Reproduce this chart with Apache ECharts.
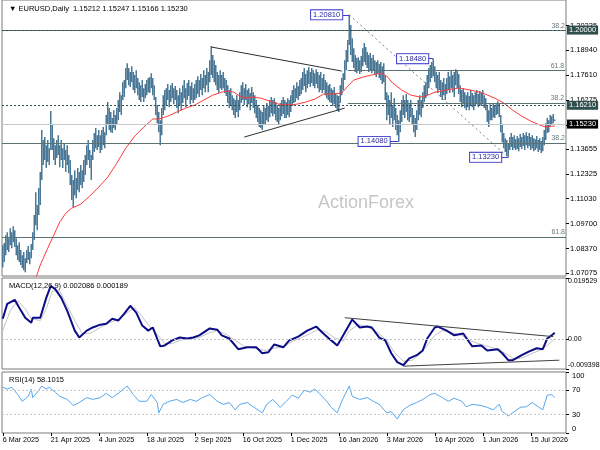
<!DOCTYPE html>
<html><head><meta charset="utf-8">
<script src="https://cdn.jsdelivr.net/npm/echarts@6/dist/echarts.min.js"></script>
<style>html,body{margin:0;padding:0;background:#fff}#c{width:600px;height:450px}</style>
</head><body><div id="c"></div>
<script>
// ---- price bars (daily high / low) ----
const highs = [
1.0856,1.0867,1.0909,1.0925,1.0893,1.0946,1.0925,1.0957,1.0936,1.0893,
1.0856,1.0872,1.0830,1.0803,1.0819,1.0787,1.0830,1.0851,1.0819,1.0862,
1.0925,1.1016,1.1138,1.1069,1.1160,1.1245,1.1468,1.1415,1.1431,1.1388,
1.1415,1.1372,1.1569,1.1495,1.1425,1.1388,1.1415,1.1441,1.1388,1.1415,
1.1372,1.1399,1.1362,1.1388,1.1335,1.1309,1.1229,1.1202,1.1255,1.1213,
1.1266,1.1245,1.1282,1.1255,1.1309,1.1335,1.1388,1.1415,1.1362,1.1335,
1.1415,1.1452,1.1479,1.1441,1.1468,1.1441,1.1468,1.1484,1.1457,1.1548,
1.1617,1.1585,1.1564,1.1532,1.1574,1.1548,1.1585,1.1628,1.1670,1.1654,
1.1723,1.1734,1.1798,1.1824,1.1798,1.1777,1.1808,1.1777,1.1761,1.1787,
1.1745,1.1723,1.1707,1.1734,1.1691,1.1713,1.1734,1.1745,1.1750,1.1771,
1.1745,1.1707,1.1644,1.1601,1.1564,1.1521,1.1585,1.1654,1.1681,1.1691,
1.1713,1.1681,1.1707,1.1718,1.1691,1.1702,1.1681,1.1654,1.1691,1.1670,
1.1707,1.1734,1.1691,1.1718,1.1734,1.1702,1.1723,1.1691,1.1713,1.1734,
1.1755,1.1734,1.1766,1.1745,1.1787,1.1761,1.1798,1.1777,1.1840,1.1915,
1.1867,1.1840,1.1814,1.1777,1.1761,1.1787,1.1761,1.1777,1.1745,1.1734,
1.1707,1.1681,1.1691,1.1654,1.1638,1.1628,1.1654,1.1628,1.1670,1.1707,
1.1723,1.1691,1.1713,1.1681,1.1691,1.1665,1.1697,1.1670,1.1654,1.1628,
1.1601,1.1585,1.1574,1.1564,1.1601,1.1585,1.1612,1.1596,1.1628,1.1644,
1.1628,1.1638,1.1617,1.1601,1.1585,1.1612,1.1628,1.1644,1.1628,1.1617,
1.1638,1.1628,1.1654,1.1681,1.1707,1.1691,1.1723,1.1702,1.1734,1.1745,
1.1777,1.1798,1.1766,1.1787,1.1803,1.1777,1.1798,1.1787,1.1771,1.1792,
1.1777,1.1761,1.1777,1.1745,1.1766,1.1734,1.1723,1.1707,1.1713,1.1691,
1.1681,1.1697,1.1665,1.1654,1.1649,1.1707,1.1745,1.1771,1.1840,1.1894,
1.1947,1.2081,1.2027,1.1957,1.1904,1.1867,1.1851,1.1856,1.1840,1.1862,
1.1904,1.1931,1.1910,1.1883,1.1867,1.1878,1.1851,1.1867,1.1840,1.1830,
1.1840,1.1819,1.1830,1.1808,1.1824,1.1761,1.1670,1.1654,1.1628,1.1670,
1.1601,1.1638,1.1585,1.1548,1.1521,1.1574,1.1628,1.1654,1.1628,1.1660,
1.1628,1.1606,1.1628,1.1585,1.1548,1.1532,1.1574,1.1628,1.1654,1.1628,
1.1670,1.1707,1.1723,1.1761,1.1798,1.1814,1.1830,1.1848,1.1808,1.1777,
1.1761,1.1777,1.1734,1.1723,1.1745,1.1713,1.1745,1.1777,1.1755,1.1787,
1.1761,1.1777,1.1792,1.1787,1.1766,1.1707,1.1681,1.1691,1.1670,1.1654,
1.1670,1.1649,1.1681,1.1665,1.1654,1.1670,1.1681,1.1660,1.1676,1.1665,
1.1681,1.1654,1.1638,1.1601,1.1574,1.1606,1.1585,1.1612,1.1596,1.1606,
1.1622,1.1612,1.1548,1.1495,1.1452,1.1425,1.1415,1.1399,1.1431,1.1452,
1.1431,1.1441,1.1420,1.1436,1.1425,1.1447,1.1431,1.1452,1.1441,1.1457,
1.1436,1.1452,1.1431,1.1441,1.1425,1.1420,1.1436,1.1415,1.1425,1.1410,
1.1431,1.1468,1.1505,1.1532,1.1521,1.1548,1.1542,1.1553,1.1525
];
const lows = [
1.0739,1.0766,1.0803,1.0830,1.0819,1.0856,1.0840,1.0872,1.0846,1.0803,
1.0777,1.0766,1.0750,1.0734,1.0723,1.0712,1.0760,1.0777,1.0755,1.0787,
1.0830,1.0883,1.0962,1.0936,1.1016,1.1069,1.1202,1.1282,1.1309,1.1266,
1.1298,1.1282,1.1362,1.1362,1.1309,1.1282,1.1319,1.1335,1.1271,1.1309,
1.1266,1.1309,1.1245,1.1282,1.1239,1.1176,1.1096,1.1058,1.1122,1.1106,
1.1149,1.1138,1.1176,1.1160,1.1192,1.1229,1.1282,1.1309,1.1266,1.1202,
1.1309,1.1351,1.1372,1.1362,1.1378,1.1346,1.1362,1.1388,1.1372,1.1441,
1.1495,1.1468,1.1457,1.1452,1.1479,1.1468,1.1495,1.1521,1.1564,1.1548,
1.1628,1.1644,1.1691,1.1734,1.1707,1.1697,1.1723,1.1681,1.1665,1.1691,
1.1654,1.1628,1.1617,1.1644,1.1617,1.1638,1.1654,1.1670,1.1665,1.1691,
1.1654,1.1628,1.1548,1.1505,1.1457,1.1388,1.1441,1.1548,1.1574,1.1601,
1.1628,1.1590,1.1617,1.1638,1.1606,1.1628,1.1585,1.1558,1.1601,1.1574,
1.1612,1.1638,1.1590,1.1628,1.1649,1.1606,1.1628,1.1612,1.1628,1.1638,
1.1660,1.1644,1.1681,1.1654,1.1691,1.1670,1.1707,1.1670,1.1723,1.1761,
1.1745,1.1723,1.1707,1.1681,1.1665,1.1691,1.1681,1.1691,1.1665,1.1649,
1.1612,1.1585,1.1601,1.1574,1.1548,1.1532,1.1564,1.1537,1.1574,1.1612,
1.1628,1.1601,1.1628,1.1590,1.1606,1.1574,1.1612,1.1585,1.1558,1.1532,
1.1511,1.1484,1.1479,1.1468,1.1500,1.1495,1.1521,1.1511,1.1537,1.1558,
1.1542,1.1553,1.1521,1.1511,1.1495,1.1521,1.1542,1.1553,1.1532,1.1532,
1.1548,1.1537,1.1564,1.1596,1.1612,1.1617,1.1638,1.1628,1.1649,1.1660,
1.1681,1.1702,1.1670,1.1691,1.1713,1.1697,1.1718,1.1702,1.1691,1.1713,
1.1691,1.1670,1.1681,1.1665,1.1681,1.1654,1.1638,1.1628,1.1617,1.1612,
1.1596,1.1606,1.1585,1.1574,1.1564,1.1612,1.1654,1.1681,1.1734,1.1787,
1.1830,1.1920,1.1867,1.1830,1.1798,1.1777,1.1771,1.1787,1.1766,1.1777,
1.1808,1.1830,1.1814,1.1798,1.1777,1.1787,1.1771,1.1787,1.1761,1.1750,
1.1766,1.1745,1.1734,1.1713,1.1723,1.1628,1.1521,1.1548,1.1495,1.1532,
1.1484,1.1521,1.1468,1.1441,1.1408,1.1457,1.1511,1.1548,1.1532,1.1564,
1.1521,1.1511,1.1537,1.1495,1.1457,1.1431,1.1468,1.1521,1.1548,1.1537,
1.1585,1.1617,1.1638,1.1654,1.1691,1.1723,1.1745,1.1755,1.1723,1.1691,
1.1665,1.1681,1.1644,1.1628,1.1654,1.1628,1.1660,1.1681,1.1665,1.1691,
1.1670,1.1644,1.1707,1.1691,1.1660,1.1617,1.1590,1.1606,1.1585,1.1574,
1.1590,1.1574,1.1601,1.1590,1.1574,1.1596,1.1606,1.1590,1.1601,1.1596,
1.1606,1.1585,1.1574,1.1511,1.1484,1.1521,1.1521,1.1537,1.1532,1.1548,
1.1553,1.1537,1.1457,1.1404,1.1372,1.1351,1.1330,1.1323,1.1362,1.1378,
1.1362,1.1372,1.1362,1.1367,1.1356,1.1378,1.1367,1.1383,1.1362,1.1388,
1.1372,1.1383,1.1362,1.1372,1.1356,1.1362,1.1372,1.1351,1.1362,1.1346,
1.1356,1.1388,1.1415,1.1452,1.1457,1.1489,1.1500,1.1505,1.1517
];
// ---- moving average (red), read at sample bars ----
const maIdx = [22,25,30,34,38,42,46,52,58,64,70,76,82,88,94,100,104,110,116,122,128,134,140,146,150,154,158,162,166,172,178,184,190,196,202,208,214,220,226,230,234,240,246,252,256,260,266,272,278,282,288,296,304,312,320,328,334,340,346,352,358,362,366,368];
const maVal = [1.0680,1.0750,1.0840,1.0909,1.0979,1.1026,1.1053,1.1074,1.1117,1.1165,1.1218,1.1292,1.1372,1.1436,1.1484,1.1527,1.1527,1.1542,1.1564,1.1585,1.1601,1.1628,1.1654,1.1670,1.1676,1.1670,1.1649,1.1638,1.1644,1.1638,1.1622,1.1606,1.1601,1.1606,1.1617,1.1633,1.1660,1.1660,1.1665,1.1702,1.1734,1.1750,1.1761,1.1771,1.1755,1.1718,1.1681,1.1654,1.1644,1.1649,1.1670,1.1681,1.1692,1.1681,1.1665,1.1638,1.1612,1.1574,1.1542,1.1516,1.1495,1.1484,1.1489,1.1489];
// ---- MACD ----
const macdIdx = [0,3,8,11,15,19,20,25,29,32,35,39,43,48,51,56,60,65,69,73,77,81,85,89,93,97,100,105,108,113,118,123,127,131,138,143,146,151,157,163,169,173,177,181,187,191,197,203,209,213,219,223,227,233,238,243,246,251,255,259,263,267,271,276,280,283,288,290,296,301,307,311,313,319,323,330,333,337,340,346,351,356,360,363,366,368];
const macdVal = [0.0066,0.0113,0.0126,0.0101,0.0069,0.0053,0.0069,0.0069,0.0132,0.0170,0.0160,0.0132,0.0091,0.0028,0.0006,0.0028,0.0038,0.0047,0.0050,0.0066,0.0060,0.0082,0.0107,0.0085,0.0044,0.0028,0.0038,-0.0022,-0.0019,-0.0003,0.0006,0.0003,0.0006,0.0013,0.0035,0.0031,0.0013,0.0003,-0.0031,-0.0025,-0.0025,-0.0044,-0.0041,-0.0016,-0.0025,-0.0003,0.0009,0.0028,0.0041,0.0022,-0.0003,-0.0019,0.0013,0.0063,0.0038,0.0041,0.0038,0.0006,-0.0003,-0.0044,-0.0072,-0.0082,-0.0060,-0.0050,-0.0035,0.0003,0.0038,0.0041,0.0028,0.0013,0.0019,-0.0009,-0.0022,-0.0019,-0.0035,-0.0031,-0.0044,-0.0066,-0.0066,-0.0050,-0.0038,-0.0028,-0.0031,0.0003,0.0013,0.0021];
const sigIdx = [0,5,10,15,19,25,29,33,38,43,48,53,58,65,71,78,83,88,93,98,103,108,113,118,125,131,138,143,149,155,161,168,175,181,188,193,198,205,210,215,221,227,231,237,243,250,256,261,267,273,278,283,288,293,299,306,311,317,323,330,337,341,347,353,358,363,368];
const sigVal = [0.0028,0.0091,0.0123,0.0097,0.0066,0.0060,0.0097,0.0154,0.0154,0.0107,0.0060,0.0019,0.0019,0.0038,0.0053,0.0066,0.0085,0.0101,0.0072,0.0041,0.0016,-0.0013,-0.0013,-0.0003,0.0003,0.0006,0.0022,0.0028,0.0016,-0.0003,-0.0022,-0.0028,-0.0035,-0.0028,-0.0022,-0.0006,0.0003,0.0019,0.0031,0.0025,0.0006,-0.0006,0.0028,0.0047,0.0041,0.0022,-0.0003,-0.0041,-0.0069,-0.0066,-0.0047,-0.0019,0.0013,0.0028,0.0022,0.0013,-0.0003,-0.0013,-0.0022,-0.0031,-0.0050,-0.0063,-0.0057,-0.0044,-0.0035,-0.0019,0.0002];
// ---- RSI(14) ----
const rsiIdx = [0,3,6,10,13,17,19,20,23,26,29,31,35,38,43,47,51,56,60,65,69,73,78,83,87,91,96,99,103,104,107,111,116,120,125,129,133,138,143,147,151,155,158,163,167,173,176,180,185,189,193,197,201,205,208,211,216,219,223,226,229,231,233,238,243,247,251,256,259,263,267,271,276,280,285,288,293,297,301,306,309,313,319,323,327,331,333,337,341,345,349,353,357,360,363,366,368];
const rsiVal = [75,72,75,63,52,60,72,58,67,77,72,75,67,60,55,45,50,58,55,58,65,58,67,77,63,52,52,63,50,33,47,52,55,50,55,52,58,63,52,47,50,38,47,50,43,33,47,55,42,52,62,57,70,67,72,65,52,42,33,52,67,77,60,55,58,52,47,33,35,23,38,45,50,55,63,65,58,52,57,52,43,47,45,42,38,47,35,28,35,42,43,50,43,38,62,63,58.1];
// ---- ticks / labels ----
const dateLabels = ['6 Mar 2025','21 Apr 2025','4 Jun 2025','18 Jul 2025','2 Sep 2025','16 Oct 2025','1 Dec 2025','16 Jan 2026','3 Mar 2026','16 Apr 2026','1 Jun 2026','15 Jul 2026'];
const dateIdx = [0,32,64,96,128,160,192,224,256,288,320,352];
const priceTicks = [1.07075,1.08370,1.09700,1.11030,1.12325,1.13655,1.14945,1.16275,1.17610,1.18940,1.20235];
const macdTicks = [-0.009398,0,0.019529];
const rsiTicks = [0,30,70,100];
const lastOHLC = ['1.15212','1.15247','1.15166','1.15230'];
const macdLast = ['0.002086','0.000189'];
const rsiLast = '58.1015';
// ---- annotations ----
const swingIdx = [231,287,264,337];
const swingVal = [1.2081,1.1848,1.1408,1.1323];
const swingText = ['1.20810','1.18480','1.14080','1.13230'];
const swingGap = [7,5,9,7];
const fibFull = [1.2014,1.1351,1.0899];
const fibFullTxt = ['38.2','38.2','61.8'];
const fibPart = [1.1787,1.1612];
const fibPartTxt = ['61.8','38.2'];
const fibPartStart = 230;
const dottedLevels = [1.2000,1.1621];
const dottedTxt = ['1.20000','1.16210'];
const lastPrice = 1.1523;
const triUpper = [[139,1.1910],[226,1.1782]];
const triLower = [[161,1.1431],[228,1.1585]];
const diagUp = [[33,1.0685],[231,1.2081]];
const diagDown = [[231,1.2081],[337,1.1323]];
const macdTrendUp = [[228,0.0069],[367,0.0009]];
const macdTrendLow = [[267,-0.0085],[371,-0.0066]];

const NCAT = 376;
const cats = [];
for (let i = 0; i < NCAT; i++) cats.push(String(i));
dateIdx.forEach((d, k) => { cats[d] = dateLabels[k]; });
const dateSet = new Set(dateIdx);

const FONT = 'Liberation Sans';
const bars = highs.map((h, i) => [i, h, lows[i]]);
const pairs = (a, b) => a.map((x, i) => [x, b[i]]);

const seg = (pts, style) => [{coord: pts[0], lineStyle: style}, {coord: pts[1]}];

const fibStyle = {color: '#5a7272', width: 1, type: 'solid'};
const fibLabel = t => ({show: true, position: 'insideEndTop', formatter: t, color: '#6a7a7a', fontSize: 7, fontFamily: FONT, distance: 1});

const mainMarkLines = [];
fibFull.forEach((v, k) => mainMarkLines.push({yAxis: v, lineStyle: fibStyle, label: fibLabel(fibFullTxt[k])}));
fibPart.forEach((v, k) => mainMarkLines.push([{coord: [fibPartStart, v], lineStyle: fibStyle, label: fibLabel(fibPartTxt[k])}, {coord: [NCAT - 1, v]}]));
dottedLevels.forEach((v, k) => mainMarkLines.push({yAxis: v, lineStyle: {color: '#2f4f4f', width: 1, type: [2, 2]},
  label: {show: true, position: 'end', formatter: dottedTxt[k], backgroundColor: '#2f4f4f', color: '#fff', fontSize: 7.5, fontFamily: FONT, padding: [1, 2, 0, 2], distance: 1}}));
mainMarkLines.push({yAxis: lastPrice, lineStyle: {color: '#c8c8c8', width: 1, type: 'solid'},
  label: {show: true, position: 'end', formatter: lastOHLC[3], backgroundColor: '#000', color: '#fff', fontSize: 7.5, fontFamily: FONT, padding: [1, 2, 0, 2], distance: 1}});
mainMarkLines.push(seg(triUpper, {color: '#303030', width: 1, type: 'solid'}));
mainMarkLines.push(seg(triLower, {color: '#303030', width: 1, type: 'solid'}));
mainMarkLines.push(seg(diagUp, {color: '#808080', width: 1, type: [2, 3]}));
mainMarkLines.push(seg(diagDown, {color: '#808080', width: 1, type: [2, 3]}));
swingIdx.forEach((ix, k) => {
  mainMarkLines.push([{coord: [ix - swingGap[k] / 1.5, swingVal[k]], lineStyle: {color: '#3c3ccc', width: 1, type: 'solid'}}, {coord: [ix, swingVal[k]]}]);
});

const chart = echarts.init(document.getElementById('c'), null, {renderer: 'canvas'});
chart.setOption({
  animation: false,
  backgroundColor: '#fff',
  textStyle: {fontFamily: FONT},
  title: [
    {text: '\u25BC EURUSD,Daily  ' + lastOHLC.join(' '), left: 4, top: 0, textStyle: {fontSize: 7.5, fontWeight: 'normal', color: '#000', fontFamily: FONT}},
    {text: 'MACD(12,26,9) ' + macdLast.join(' '), left: 4, top: 277, textStyle: {fontSize: 7.5, fontWeight: 'normal', color: '#000', fontFamily: FONT}},
    {text: 'RSI(14) ' + rsiLast, left: 4, top: 371, textStyle: {fontSize: 7.5, fontWeight: 'normal', color: '#000', fontFamily: FONT}}
  ],
  graphic: [{type: 'text', left: 318, top: 194, z: 0, style: {text: 'ActionForex', fontSize: 18, fill: '#c6c6c6', fontFamily: FONT}}],
  grid: [
    {left: 2, right: 34, top: 0, height: 276, show: true, borderColor: '#7a7a7a', borderWidth: 1, outerBoundsMode: 'none', containLabel: false},
    {left: 2, right: 34, top: 278, height: 91, show: true, borderColor: '#7a7a7a', borderWidth: 1, outerBoundsMode: 'none', containLabel: false},
    {left: 2, right: 34, top: 372, height: 61, show: true, borderColor: '#7a7a7a', borderWidth: 1, outerBoundsMode: 'none', containLabel: false}
  ],
  xAxis: [0, 1, 2].map(g => ({
    type: 'category', gridIndex: g, data: cats, boundaryGap: true,
    axisLine: {show: false},
    axisTick: g === 2 ? {show: true, length: 3, alignWithLabel: true, interval: (i) => dateSet.has(i), lineStyle: {color: '#000'}} : {show: false},
    axisLabel: g === 2 ? {show: true, interval: (i) => dateSet.has(i), align: 'left', fontSize: 7.2, color: '#000', margin: 4, fontFamily: FONT, hideOverlap: false} : {show: false},
    splitLine: {show: false}
  })),
  yAxis: [
    {type: 'value', gridIndex: 0, position: 'right', min: 1.0692, max: 1.2160, scale: true,
      axisLine: {show: false}, splitLine: {show: false},
      axisTick: {show: true, length: 3, customValues: priceTicks, lineStyle: {color: '#000'}},
      axisLabel: {show: true, customValues: priceTicks, formatter: v => v.toFixed(5), fontSize: 7.5, color: '#000', margin: 4, fontFamily: FONT}},
    {type: 'value', gridIndex: 1, position: 'right', min: -0.009398, max: 0.019529,
      axisLine: {show: false}, splitLine: {show: false},
      axisTick: {show: true, length: 3, customValues: macdTicks, lineStyle: {color: '#000'}},
      axisLabel: {show: true, customValues: macdTicks, formatter: v => (v === 0 ? '0.00' : v.toFixed(6)), fontSize: 7, color: '#000', margin: 2, fontFamily: FONT,
        verticalAlignMaxLabel: 'top', verticalAlignMinLabel: 'bottom'}},
    {type: 'value', gridIndex: 2, position: 'right', min: 0, max: 100,
      axisLine: {show: false}, splitLine: {show: false},
      axisTick: {show: true, length: 3, customValues: rsiTicks, lineStyle: {color: '#000'}},
      axisLabel: {show: true, customValues: rsiTicks, formatter: v => String(v), fontSize: 7.5, color: '#000', margin: 6, fontFamily: FONT,
        verticalAlignMaxLabel: 'top', verticalAlignMinLabel: 'bottom'}}
  ],
  series: [
    {
      type: 'custom', xAxisIndex: 0, yAxisIndex: 0, clip: true, z: 3,
      data: bars, encode: {x: 0, y: [1, 2]},
      renderItem: function (params, api) {
        const i = api.value(0);
        const a = api.coord([i, api.value(1)]);
        const b = api.coord([i, api.value(2)]);
        return {type: 'line', shape: {x1: a[0], y1: a[1], x2: b[0], y2: b[1]}, style: {stroke: '#4a7896', lineWidth: 1.5}};
      }
    },
    {
      type: 'line', xAxisIndex: 0, yAxisIndex: 0, data: pairs(maIdx, maVal), showSymbol: false, symbol: 'none',
      lineStyle: {color: '#ff3b3b', width: 1}, z: 4, clip: true, silent: true,
      markLine: {symbol: 'none', silent: true, animation: false, z: 5, data: mainMarkLines},
      markPoint: {
        symbol: 'rect', symbolSize: 0.1, silent: true, animation: false, z: 6,
        data: swingIdx.map((ix, k) => ({name: swingText[k], coord: [ix, swingVal[k]],
          label: {show: true, position: 'left', distance: swingGap[k], formatter: '{b}', backgroundColor: '#fff', borderColor: '#3c3ccc', borderWidth: 1,
            padding: [1, 2, 0, 2], color: '#2a2aa0', fontSize: 7.5, fontFamily: FONT}}))
      }
    },
    {
      type: 'line', xAxisIndex: 1, yAxisIndex: 1, data: pairs(sigIdx, sigVal), showSymbol: false, symbol: 'none',
      lineStyle: {color: '#c4c4c4', width: 1}, z: 3, silent: true,
      markLine: {symbol: 'none', silent: true, animation: false, data: [
        {yAxis: 0, lineStyle: {color: '#c0c0c0', width: 1, type: [2, 2]}, label: {show: false}},
        seg(macdTrendUp, {color: '#404040', width: 1, type: 'solid'}),
        seg(macdTrendLow, {color: '#404040', width: 1, type: 'solid'})
      ]}
    },
    {
      type: 'line', xAxisIndex: 1, yAxisIndex: 1, data: pairs(macdIdx, macdVal), showSymbol: false, symbol: 'none',
      lineStyle: {color: '#0c0c88', width: 2}, z: 4, silent: true, clip: true
    },
    {
      type: 'line', xAxisIndex: 2, yAxisIndex: 2, data: pairs(rsiIdx, rsiVal), showSymbol: false, symbol: 'none',
      lineStyle: {color: '#55a8f0', width: 1}, z: 4, silent: true,
      markLine: {symbol: 'none', silent: true, animation: false, data: [
        {yAxis: 70, lineStyle: {color: '#c8c8c8', width: 1, type: [2, 2]}, label: {show: false}},
        {yAxis: 30, lineStyle: {color: '#c8c8c8', width: 1, type: [2, 2]}, label: {show: false}}
      ]}
    }
  ]
});
</script>
</body></html>
